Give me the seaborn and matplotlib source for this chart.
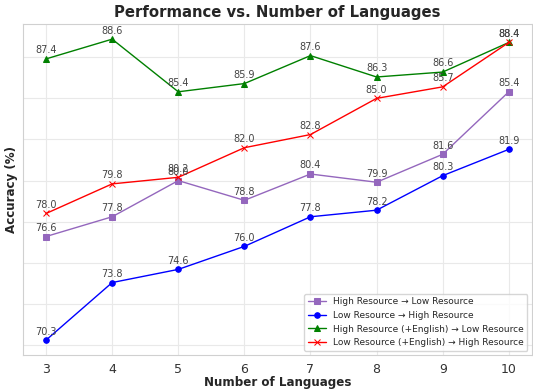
import pandas as pd
import numpy as np
import matplotlib
matplotlib.use("Agg")
import matplotlib.pyplot as plt
import seaborn as sns

sns.set_style("whitegrid", {"grid.color": "#e9e9e9", "axes.edgecolor": "#d0d0d0"})

num_languages = [3, 4, 5, 6, 7, 8, 9, 10]
high_to_low = [76.6, 77.8, 80.0, 78.8, 80.4, 79.9, 81.6, 85.4]
low_to_high = [70.3, 73.8, 74.6, 76.0, 77.8, 78.2, 80.3, 81.9]
high_en_to_low = [87.4, 88.6, 85.4, 85.9, 87.6, 86.3, 86.6, 88.4]
low_en_to_high = [78.0, 79.8, 80.2, 82.0, 82.8, 85.0, 85.7, 88.4]

series = [
    ("High Resource \u2192 Low Resource", high_to_low, "tab:purple", "s"),
    ("Low Resource \u2192 High Resource", low_to_high, "blue", "o"),
    ("High Resource (+English) \u2192 Low Resource", high_en_to_low, "green", "^"),
    ("Low Resource (+English) \u2192 High Resource", low_en_to_high, "red", "x"),
]

fig, ax = plt.subplots(figsize=(5.33, 3.89), dpi=100)

for name, vals, color, marker in series:
    df = pd.DataFrame({"n": num_languages, "acc": vals})
    sns.lineplot(data=df, x="n", y="acc", ax=ax, color=color, marker=marker,
                 markersize=4, linewidth=1, label=name,
                 markeredgecolor=color)
    for x, y in zip(num_languages, vals):
        ax.annotate(f"{y:.1f}", (x, y), textcoords="offset points", xytext=(0, 4),
                    ha="center", fontsize=7, color="#444444")

ax.set_yticks(np.arange(70, 90, 2.5))
ax.set_yticklabels([])
ax.tick_params(axis="y", pad=0)
ax.set_xticks(num_languages)
ax.tick_params(axis="x", labelsize=9, colors="#333333", pad=2)
ax.set_title("Performance vs. Number of Languages", fontsize=10.7, fontweight="bold", pad=5)
ax.set_xlabel("Number of Languages", fontsize=8.6, fontweight="bold", labelpad=0)
ax.set_ylabel("Accuracy (%)", fontsize=8.6, fontweight="bold")
ax.yaxis.set_label_coords(-0.01, 0.5)
ax.legend(loc="lower right", fontsize=6.5)

plt.subplots_adjust(left=0.043, right=0.998, top=0.938, bottom=0.087)
plt.savefig("out.png")
